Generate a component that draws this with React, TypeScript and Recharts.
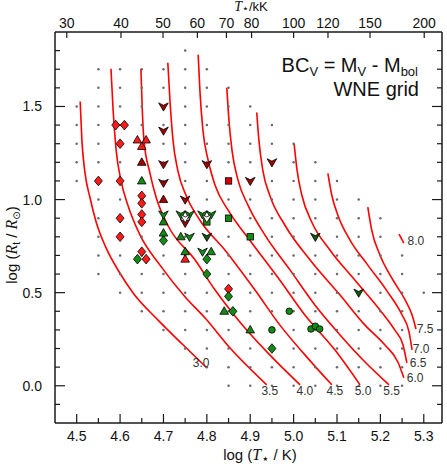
import { ComposedChart, Line, Scatter, XAxis, YAxis } from "recharts";

const FONT = "'Liberation Sans', Arial, sans-serif";
const SERIF = "'Liberation Serif', 'DejaVu Serif', serif";
const STAR_FONT = "'DejaVu Sans', sans-serif";
const W = 447;
const H = 466;
const AXIS = "#1a1a1a";

// model grid: log T* column -> log Rt values that were computed
const gridColumns: { t: number; r: number[] }[] = [
	{ t: 4.5, r: [1.1, 1.2, 1.3, 1.4, 1.5] },
	{ t: 4.55, r: [0.6, 0.7, 0.8, 0.9, 1.0, 1.1, 1.2, 1.3, 1.4, 1.5, 1.6, 1.7] },
	{ t: 4.6, r: [0.5, 0.6, 0.7, 0.8, 0.9, 1.0, 1.1, 1.2, 1.3, 1.4, 1.5, 1.6, 1.7] },
	{ t: 4.65, r: [0.4, 0.5, 0.6, 0.7, 0.8, 0.9, 1.0, 1.1, 1.2, 1.3, 1.4, 1.5, 1.6, 1.7] },
	{ t: 4.7, r: [0.3, 0.4, 0.5, 0.6, 0.7, 0.8, 0.9, 1.0, 1.1, 1.2, 1.3, 1.4, 1.5, 1.6, 1.7] },
	{ t: 4.75, r: [0.2, 0.3, 0.4, 0.5, 0.6, 0.7, 0.8, 0.9, 1.0, 1.1, 1.2, 1.3, 1.4, 1.5, 1.6, 1.7, 1.8, 1.9] },
	{ t: 4.8, r: [0.1, 0.2, 0.3, 0.4, 0.5, 0.6, 0.7, 0.8, 0.9, 1.0, 1.1, 1.2, 1.3, 1.4, 1.5, 1.6, 1.7] },
	{ t: 4.85, r: [0.0, 0.1, 0.2, 0.3, 0.4, 0.5, 0.6, 0.7, 0.8, 0.9, 1.0, 1.1, 1.2, 1.3, 1.4, 1.5, 1.6] },
	{ t: 4.9, r: [0.0, 0.1, 0.2, 0.3, 0.4, 0.5, 0.6, 0.7, 0.8, 0.9, 1.0, 1.1, 1.2, 1.3, 1.4, 1.5] },
	{ t: 4.95, r: [0.0, 0.1, 0.2, 0.3, 0.4, 0.5, 0.6, 0.7, 0.8, 0.9, 1.0, 1.1, 1.2, 1.3, 1.4] },
	{ t: 5.0, r: [0.0, 0.1, 0.2, 0.3, 0.4, 0.5, 0.6, 0.7, 0.8, 0.9, 1.0, 1.1, 1.2, 1.3] },
	{ t: 5.05, r: [0.0, 0.1, 0.2, 0.3, 0.4, 0.5, 0.6, 0.7, 0.8, 0.9, 1.0, 1.1, 1.2] },
	{ t: 5.1, r: [0.0, 0.1, 0.2, 0.3, 0.4, 0.5, 0.6, 0.7, 0.8, 0.9, 1.0, 1.1] },
	{ t: 5.15, r: [0.0, 0.1, 0.2, 0.3, 0.4, 0.5, 0.6, 0.7, 0.8, 0.9, 1.0] },
	{ t: 5.2, r: [0.0, 0.1, 0.2, 0.3, 0.4, 0.5, 0.6, 0.7, 0.8, 0.9] },
	{ t: 5.25, r: [0.0, 0.1, 0.2, 0.3, 0.4, 0.5, 0.6, 0.7] },
	{ t: 5.3, r: [0.5] },
];

// BC_V iso-contours, [log T*, log Rt]
const bc30 = [[4.508, 1.527], [4.512, 1.318], [4.519, 1.146], [4.531, 1.007], [4.545, 0.878], [4.568, 0.739], [4.598, 0.611], [4.63, 0.498], [4.687, 0.354], [4.745, 0.22], [4.8, 0.096]];
const bc35 = [[4.579, 1.703], [4.584, 1.478], [4.591, 1.264], [4.602, 1.103], [4.618, 0.969], [4.646, 0.809], [4.692, 0.648], [4.75, 0.477], [4.796, 0.364], [4.853, 0.204], [4.938, 0.005]];
const bc40 = [[4.648, 1.703], [4.651, 1.494], [4.655, 1.318], [4.669, 1.141], [4.683, 1.012], [4.71, 0.862], [4.773, 0.675], [4.819, 0.514], [4.876, 0.343], [4.945, 0.166], [5.015, 0.005]];
const bc45 = [[4.71, 1.735], [4.715, 1.532], [4.722, 1.318], [4.733, 1.157], [4.752, 1.023], [4.784, 0.889], [4.842, 0.728], [4.911, 0.514], [4.968, 0.327], [5.026, 0.166], [5.088, 0.005]];
const bc50 = [[4.78, 1.778], [4.784, 1.585], [4.791, 1.371], [4.803, 1.211], [4.819, 1.077], [4.849, 0.943], [4.899, 0.782], [4.968, 0.568], [5.026, 0.38], [5.095, 0.193], [5.153, 0.005]];
const bc55 = [[4.846, 1.601], [4.851, 1.425], [4.858, 1.264], [4.872, 1.103], [4.895, 0.969], [4.934, 0.809], [4.992, 0.621], [5.049, 0.434], [5.107, 0.273], [5.164, 0.129], [5.22, 0.005]];
const bc60 = [[4.915, 1.468], [4.92, 1.318], [4.929, 1.157], [4.945, 1.023], [4.98, 0.862], [5.038, 0.675], [5.107, 0.487], [5.164, 0.327], [5.21, 0.22], [5.24, 0.129], [5.254, 0.043]];
const bc65 = [[5.001, 1.302], [5.008, 1.157], [5.019, 1.023], [5.042, 0.878], [5.084, 0.728], [5.141, 0.568], [5.199, 0.407], [5.233, 0.3], [5.252, 0.22], [5.261, 0.123]];
const bc70 = [[5.079, 1.141], [5.088, 1.023], [5.102, 0.916], [5.13, 0.782], [5.171, 0.648], [5.217, 0.503], [5.25, 0.38], [5.266, 0.289], [5.273, 0.193]];
const bc75 = [[5.171, 0.959], [5.18, 0.836], [5.199, 0.702], [5.229, 0.568], [5.257, 0.461], [5.273, 0.38], [5.282, 0.305]];
const bc80 = [[5.243, 0.814], [5.254, 0.766]];

const contours = [bc30, bc35, bc40, bc45, bc50, bc55, bc60, bc65, bc70, bc75, bc80];

const contourLabels: [string, number, number][] = [
	["3.0", 4.787, 0.123],
	["3.5", 4.945, -0.027],
	["4.0", 5.026, -0.027],
	["4.5", 5.095, -0.027],
	["5.0", 5.16, -0.027],
	["5.5", 5.226, -0.027],
	["6.0", 5.28, 0.043],
	["6.5", 5.287, 0.123],
	["7.0", 5.294, 0.198],
	["7.5", 5.303, 0.305],
	["8.0", 5.282, 0.777],
];

// observed stars
const redDiamonds = [[4.59, 1.4], [4.61, 1.4], [4.6, 1.3], [4.55, 1.1], [4.6, 1.1], [4.65, 1.02], [4.65, 0.98], [4.6, 0.9], [4.65, 0.92], [4.65, 0.88], [4.6, 0.8], [4.65, 0.72], [4.66, 0.68], [4.85, 0.52]];
const redTriangles = [[4.64, 1.32], [4.66, 1.32], [4.65, 1.285], [4.75, 0.68]];
const darkRedTriangles = [[4.65, 1.2], [4.7, 1.0]];
const darkRedArrows = [[4.7, 1.5], [4.7, 1.37], [4.7, 1.19], [4.8, 1.19], [4.7, 1.09], [4.9, 1.1], [4.95, 1.2], [4.75, 1.0], [4.75, 0.875]];
const redSquares = [[4.85, 1.1]];
const greenTriangles = [[4.65, 1.1], [4.7, 0.88], [4.7, 0.82], [4.74, 0.8], [4.75, 0.72], [4.81, 0.72], [4.84, 0.4], [4.9, 0.3]];
const greenArrows = [[4.7, 0.92], [4.74, 0.92], [4.76, 0.92], [4.79, 0.92], [4.81, 0.92], [4.76, 0.8], [4.79, 0.72]];
const openArrows = [[4.75, 0.9], [4.8, 0.9]];
const darkGreenArrows = [[4.8, 0.8], [5.05, 0.8], [5.15, 0.5]];
const greenSquares = [[4.8, 0.88], [4.85, 0.9], [4.9, 0.8]];
const greenDiamonds = [[4.7, 0.78], [4.64, 0.68], [4.8, 0.68], [4.8, 0.6], [4.85, 0.48], [4.86, 0.4], [4.95, 0.2]];
const greenCircles = [[4.95, 0.3], [4.99, 0.4], [5.04, 0.305], [5.05, 0.32], [5.06, 0.305]];

const xTicks = [4.5, 4.55, 4.6, 4.65, 4.7, 4.75, 4.8, 4.85, 4.9, 4.95, 5.0, 5.05, 5.1, 5.15, 5.2, 5.25, 5.3];
const yTicks = [-0.1, 0.0, 0.1, 0.2, 0.3, 0.4, 0.5, 0.6, 0.7, 0.8, 0.9, 1.0, 1.1, 1.2, 1.3, 1.4, 1.5, 1.6, 1.7, 1.8];
const topTickLabels = [30, 40, 50, 60, 70, 80, 100, 120, 150, 200];
const topTicks = topTickLabels.map((k) => Math.log10(k * 1000));

const X_DOMAIN: [number, number] = [4.45, 5.342];
const Y_DOMAIN: [number, number] = [-0.2, 1.9];

const pts = (arr: number[][]) => arr.map(([t, r]) => ({ t, r }));
const gridData = gridColumns.flatMap((c) => c.r.map((r) => ({ t: c.t, r })));
const labelData = contourLabels.map(([label, t, r]) => ({ t, r, label }));

const isMajor = (v: number, step: number) => Math.abs(v / step - Math.round(v / step)) < 1e-6;

const BottomTick = (p: any) => {
	const v = p.payload.value;
	const major = isMajor(v, 0.1);
	return (
		<g>
			<line x1={p.x} x2={p.x} y1={p.y} y2={p.y - (major ? 9 : 5)} stroke={AXIS} strokeWidth={1.2} />
			{major && (
				<text x={p.x} y={p.y + 18} textAnchor="middle" fontSize={14} fill="#111" fontFamily={FONT}>
					{v.toFixed(1)}
				</text>
			)}
		</g>
	);
};

const TopTick = (p: any) => {
	const i = topTicks.findIndex((v) => Math.abs(v - p.payload.value) < 1e-6);
	return (
		<g>
			<line x1={p.x} x2={p.x} y1={p.y} y2={p.y + 6} stroke={AXIS} strokeWidth={1.2} />
			<text x={p.x} y={p.y - 4.5} textAnchor="middle" fontSize={14} fill="#111" fontFamily={FONT}>
				{topTickLabels[i]}
			</text>
		</g>
	);
};

const LeftTick = (p: any) => {
	const v = p.payload.value;
	const major = isMajor(v, 0.5);
	return (
		<g>
			<line x1={p.x} x2={p.x + (major ? 10 : 5)} y1={p.y} y2={p.y} stroke={AXIS} strokeWidth={1.2} />
			{major && (
				<text x={p.x - 13} y={p.y + 5} textAnchor="end" fontSize={14} fill="#111" fontFamily={FONT}>
					{v.toFixed(1)}
				</text>
			)}
		</g>
	);
};

const RightTick = (p: any) => {
	const major = isMajor(p.payload.value, 0.5);
	return <line x1={p.x} x2={p.x - (major ? 10 : 5)} y1={p.y} y2={p.y} stroke={AXIS} strokeWidth={1.2} />;
};

const stroke = { stroke: "#000", strokeWidth: 0.8 };

const diamond = (fill: string) => (p: any) => (
	<path d={`M${p.cx},${p.cy - 4.8}L${p.cx + 4},${p.cy}L${p.cx},${p.cy + 4.8}L${p.cx - 4},${p.cy}Z`} fill={fill} {...stroke} />
);
const triangle = (fill: string) => (p: any) => (
	<path d={`M${p.cx},${p.cy - 4.5}L${p.cx + 4.3},${p.cy + 3}L${p.cx - 4.3},${p.cy + 3}Z`} fill={fill} {...stroke} />
);
const arrow = (fill: string) => (p: any) => (
	<path
		d={`M${p.cx - 4.8},${p.cy - 3.6}L${p.cx},${p.cy - 1.2}L${p.cx + 4.8},${p.cy - 3.6}L${p.cx},${p.cy + 4.6}Z`}
		fill={fill}
		{...stroke}
	/>
);
const square = (fill: string) => (p: any) => <rect x={p.cx - 3.2} y={p.cy - 3.2} width={6.4} height={6.4} fill={fill} {...stroke} />;
const circle = (fill: string) => (p: any) => <circle cx={p.cx} cy={p.cy} r={3.3} fill={fill} {...stroke} />;
const dot = (p: any) => <circle cx={p.cx} cy={p.cy} r={1.25} fill="#6a6a6a" />;
const labelShape = (p: any) => (
	<text x={p.cx} y={p.cy} textAnchor="middle" dominantBaseline="central" fontSize={12} fill="#333" fontFamily={FONT}>
		{p.payload.label}
	</text>
);

const RED = "#ff1a1a";
const DARKRED = "#a30000";
const GREEN = "#138a13";
const DARKGREEN = "#0a5a0a";

const markerSeries: { data: number[][]; shape: (p: any) => any }[] = [
	{ data: redDiamonds, shape: diamond(RED) },
	{ data: redTriangles, shape: triangle(RED) },
	{ data: darkRedTriangles, shape: triangle(DARKRED) },
	{ data: redSquares, shape: square("#d40000") },
	{ data: greenSquares, shape: square(GREEN) },
	{ data: greenDiamonds, shape: diamond(GREEN) },
	{ data: greenTriangles, shape: triangle(GREEN) },
	{ data: greenCircles, shape: circle(GREEN) },
	{ data: darkRedArrows, shape: arrow(DARKRED) },
	{ data: greenArrows, shape: arrow(GREEN) },
	{ data: openArrows, shape: arrow("#ffffff") },
	{ data: darkGreenArrows, shape: arrow(DARKGREEN) },
];

export default function App() {
	return (
		<div style={{ position: "absolute", left: 0, top: 0, width: W, height: H, background: "#fff" }}>
			<ComposedChart width={W} height={H} margin={{ top: 0, right: 0, bottom: 0, left: 0 }}>
				<XAxis
					xAxisId="b"
					dataKey="t"
					type="number"
					domain={X_DOMAIN}
					allowDataOverflow
					ticks={xTicks}
					interval={0}
					height={43}
					tickSize={0}
					tickMargin={0}
					tickLine={false}
					axisLine={{ stroke: AXIS, strokeWidth: 1.5 }}
					tick={BottomTick}
				/>
				<XAxis
					xAxisId="top"
					orientation="top"
					dataKey="t"
					type="number"
					domain={X_DOMAIN}
					allowDataOverflow
					ticks={topTicks}
					interval={0}
					height={32}
					tickSize={0}
					tickMargin={0}
					tickLine={false}
					axisLine={{ stroke: AXIS, strokeWidth: 1.5 }}
					tick={TopTick}
				/>
				<YAxis
					yAxisId="l"
					dataKey="r"
					type="number"
					domain={Y_DOMAIN}
					allowDataOverflow
					ticks={yTicks}
					interval={0}
					width={55}
					tickSize={0}
					tickMargin={0}
					tickLine={false}
					axisLine={{ stroke: AXIS, strokeWidth: 1.5 }}
					tick={LeftTick}
				/>
				<YAxis
					yAxisId="rt"
					orientation="right"
					dataKey="r"
					type="number"
					domain={Y_DOMAIN}
					allowDataOverflow
					ticks={yTicks}
					interval={0}
					width={5}
					tickSize={0}
					tickMargin={0}
					tickLine={false}
					axisLine={{ stroke: AXIS, strokeWidth: 1.5 }}
					tick={RightTick}
				/>
				<Scatter xAxisId="top" yAxisId="rt" data={[]} isAnimationActive={false} />
				<Scatter xAxisId="b" yAxisId="l" data={gridData} shape={dot} isAnimationActive={false} />
				{contours.map((c, i) => (
					<Line
						key={i}
						xAxisId="b"
						yAxisId="l"
						data={pts(c)}
						dataKey="r"
						type="monotone"
						stroke="#ff0000"
						strokeWidth={1.6}
						dot={false}
						activeDot={false}
						isAnimationActive={false}
					/>
				))}
				{markerSeries.map((s, i) => (
					<Scatter key={i} xAxisId="b" yAxisId="l" data={pts(s.data)} shape={s.shape} isAnimationActive={false} />
				))}
				<Scatter xAxisId="b" yAxisId="l" data={labelData} shape={labelShape} isAnimationActive={false} />
			</ComposedChart>
			<svg width={W} height={H} style={{ position: "absolute", left: 0, top: 0, pointerEvents: "none" }} fontFamily={FONT}>
				<text x={251} y={11} textAnchor="middle" fontSize={13} fill="#111">
					<tspan fontFamily={SERIF} fontStyle="italic" fontSize={14}>T</tspan>
					<tspan fontFamily={STAR_FONT} fontSize={11} dy={1}>⋆</tspan>
					<tspan dy={-1}>/kK</tspan>
				</text>
				<text x={260} y={460} textAnchor="middle" fontSize={15} fill="#111">
					log (<tspan fontFamily={SERIF} fontStyle="italic" fontSize={16}>T</tspan>
					<tspan fontFamily={STAR_FONT} fontSize={13} dy={3}>⋆</tspan>
					<tspan dy={-3}> / K)</tspan>
				</text>
				<text transform="translate(17,245) rotate(-90)" textAnchor="middle" fontSize={15} fill="#111">
					log (<tspan fontFamily={SERIF} fontStyle="italic" fontSize={16}>R</tspan>
					<tspan fontSize={10} dy={3}>t</tspan>
					<tspan dy={-3}> / </tspan>
					<tspan fontFamily={SERIF} fontStyle="italic" fontSize={16}>R</tspan>
					<tspan fontFamily={STAR_FONT} fontSize={10} dy={3}>⊙</tspan>
					<tspan dy={-3}>)</tspan>
				</text>
				<text x={418} y={72} textAnchor="end" fontSize={20} fill="#111">
					BC<tspan fontSize={13} dy={4}>V</tspan>
					<tspan dy={-4}> = M</tspan>
					<tspan fontSize={13} dy={4}>V</tspan>
					<tspan dy={-4}> - M</tspan>
					<tspan fontSize={13} dy={4}>bol</tspan>
				</text>
				<text x={419} y={96} textAnchor="end" fontSize={20} fill="#111">
					WNE grid
				</text>
			</svg>
		</div>
	);
}
